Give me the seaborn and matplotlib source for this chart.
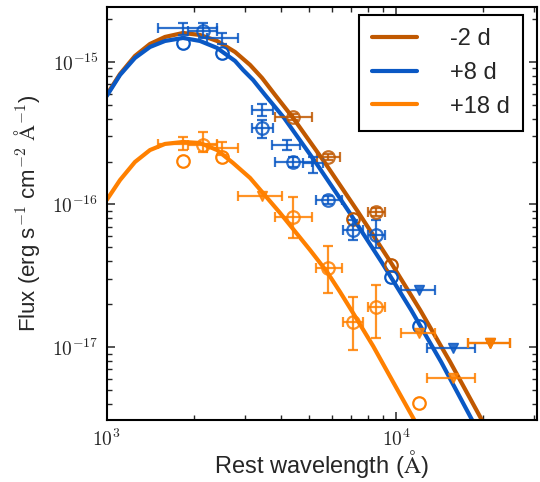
import matplotlib
matplotlib.use("Agg")
import matplotlib.pyplot as plt
from matplotlib.ticker import FuncFormatter, NullFormatter
import seaborn as sns
import numpy as np

# model curves (wavelength in Angstrom, flux in erg/s/cm2/A)
wave_m2 = [1000, 1112, 1252, 1411, 1590, 1835, 2101, 2406, 2777, 3129, 3442, 3818,
           4405, 5683, 7390, 9610, 12106, 15373, 19520, 21990]
flux_m2 = [5.87e-16, 8.24e-16, 1.102e-15, 1.338e-15, 1.498e-15, 1.598e-15, 1.547e-15,
           1.404e-15, 1.175e-15, 9.53e-16, 7.72e-16, 5.87e-16, 4.05e-16, 1.955e-16,
           8.86e-17, 3.89e-17, 1.818e-17, 7.85e-18, 3.23e-18, 1.99e-18]

wave_p8 = [1000, 1112, 1252, 1411, 1590, 1835, 2101, 2406, 2777, 2959, 3205, 3525,
           4101, 5290, 6880, 8947, 11268, 14308, 18310, 20470]
flux_p8 = [5.77e-16, 8.11e-16, 1.067e-15, 1.274e-15, 1.404e-15, 1.474e-15, 1.404e-15,
           1.254e-15, 1.016e-15, 8.79e-16, 7.47e-16, 5.87e-16, 4.05e-16, 1.955e-16,
           8.86e-17, 3.89e-17, 1.818e-17, 7.85e-18, 3.07e-18, 1.99e-18]

wave_p18 = [1000, 1112, 1252, 1411, 1590, 1835, 2101, 2406, 2733, 3129, 3442, 3972,
            4405, 5043, 5774, 6405, 7100, 8326, 9763, 11450, 12597]
flux_p18 = [1.075e-16, 1.485e-16, 1.987e-16, 2.41e-16, 2.66e-16, 2.746e-16, 2.70e-16,
            2.41e-16, 1.955e-16, 1.535e-16, 1.224e-16, 8.72e-17, 6.73e-17, 4.79e-17,
            3.36e-17, 2.43e-17, 1.732e-17, 1.016e-17, 5.68e-18, 3.18e-18, 2.225e-18]

# photometry: -2 d
m2_w = [4405, 5821, 8530]
m2_wlo = [3818, 5333, 8003]
m2_whi = [5125, 6405, 9163]
m2_f = [4.11e-16, 2.15e-16, 8.86e-17]
m2_flo = [3.92e-16, 2.05e-16, 8.30e-17]
m2_fhi = [4.31e-16, 2.26e-16, 9.45e-17]
m2_circ_w = [7100, 9610]
m2_circ_f = [7.91e-17, 3.76e-17]
m2_lim_w = [21140]
m2_lim_wlo = [17740]
m2_lim_whi = [24790]
m2_lim_f = [1.07e-17]

# photometry: +8 d
p8_bar_w = [1835, 2503, 3442, 4201, 5165]
p8_bar_wlo = [1504, 2222, 3180, 3728, 4771]
p8_bar_whi = [2406, 2843, 3757, 4658, 5594]
p8_bar_f = [1.732e-15, 1.474e-15, 4.60e-16, 2.62e-16, 1.955e-16]
p8_bar_flo = [1.547e-15, 1.338e-15, 4.18e-16, 2.41e-16, 1.66e-16]
p8_bar_fhi = [1.878e-15, 1.598e-15, 5.07e-16, 2.84e-16, 2.15e-16]
p8_w = [2152, 3442, 4405, 5821, 7100, 8530]
p8_wlo = [1910, 3180, 3818, 5290, 6560, 8003]
p8_whi = [2406, 3757, 5125, 6508, 7690, 9163]
p8_f = [1.65e-15, 3.44e-16, 1.99e-16, 1.075e-16, 6.62e-17, 6.11e-17]
p8_flo = [1.474e-15, 2.93e-16, 1.83e-16, 1.008e-16, 5.63e-17, 4.95e-17]
p8_fhi = [1.878e-15, 3.92e-16, 2.15e-16, 1.147e-16, 7.78e-17, 7.78e-17]
p8_circ_w = [1835, 2503, 9610, 12010]
p8_circ_f = [1.359e-15, 1.157e-15, 3.10e-17, 1.40e-17]
p8_lim_w = [12010, 15740]
p8_lim_wlo = [10406, 12800]
p8_lim_whi = [13640, 18760]
p8_lim_f = [2.51e-17, 9.84e-18]

# photometry: +18 d
p18_bar_w = [1835, 2503]
p18_bar_wlo = [1504, 2222]
p18_bar_whi = [2406, 2843]
p18_bar_f = [2.66e-16, 2.49e-16]
p18_bar_flo = [2.41e-16, 2.23e-16]
p18_bar_fhi = [2.98e-16, 2.75e-16]
p18_w = [2152, 4405, 5821, 7100, 8530]
p18_wlo = [1910, 3818, 5290, 6560, 8003]
p18_whi = [2406, 5125, 6508, 7690, 9163]
p18_f = [2.62e-16, 8.17e-17, 3.58e-17, 1.50e-17, 1.91e-17]
p18_flo = [2.34e-16, 5.82e-17, 2.39e-17, 9.53e-18, 1.16e-17]
p18_fhi = [3.23e-16, 1.133e-16, 5.11e-17, 2.24e-17, 2.72e-17]
p18_circ_w = [1835, 2503, 12010]
p18_circ_f = [2.02e-16, 2.15e-16, 4.05e-18]
p18_lim_w = [3442, 12010, 15740, 21140]
p18_lim_wlo = [2843, 10406, 12800, 17740]
p18_lim_whi = [4036, 13640, 18760, 24790]
p18_lim_f = [1.147e-16, 1.25e-17, 6.06e-18, 1.07e-17]

x_ticks = [1e3, 1e4]
y_ticks = [1e-17, 1e-16, 1e-15]

c_m2 = "#c05800"
c_p8 = "#0a58c4"
c_p18 = "#ff8000"


def errs(c, lo, hi):
    c = np.array(c)
    return [c - np.array(lo), np.array(hi) - c]


def draw_points(ax, color, bar, pts, circ, lim):
    kw = dict(ls="none", color=color, elinewidth=1.6, capsize=3.5, capthick=1.6, alpha=0.85)
    if bar is not None:
        w, wlo, whi, f, flo, fhi = bar
        ax.errorbar(w, f, xerr=errs(w, wlo, whi), yerr=errs(f, flo, fhi), fmt="none", **kw)
    if pts is not None:
        w, wlo, whi, f, flo, fhi = pts
        ax.errorbar(w, f, xerr=errs(w, wlo, whi), yerr=errs(f, flo, fhi), fmt="o",
                    mfc="none", mec=color, ms=9, mew=1.6, **kw)
    if circ is not None:
        w, f = circ
        ax.plot(w, f, "o", mfc="none", mec=color, ms=9, mew=1.6, ls="none")
    if lim is not None:
        w, wlo, whi, f = lim
        ax.errorbar(w, f, xerr=errs(w, wlo, whi), fmt="v", ms=7, mfc=color, mec=color, **kw)


def plot_sed():
    sns.set_style("ticks")
    plt.rcParams["font.family"] = ["Liberation Sans", "DejaVu Sans"]
    plt.rcParams["mathtext.fontset"] = "cm"

    fig = plt.figure(figsize=(5.4, 4.82), dpi=100)
    ax = fig.add_axes([0.1976, 0.1276, 0.7963, 0.8589])
    ax.set_xscale("log")
    ax.set_yscale("log")

    sns.lineplot(x=wave_m2, y=flux_m2, color=c_m2, lw=3, label="-2 d", ax=ax)
    sns.lineplot(x=wave_p8, y=flux_p8, color=c_p8, lw=3, label="+8 d", ax=ax)
    sns.lineplot(x=wave_p18, y=flux_p18, color=c_p18, lw=3, label="+18 d", ax=ax)

    draw_points(ax, c_m2, None,
                (m2_w, m2_wlo, m2_whi, m2_f, m2_flo, m2_fhi),
                (m2_circ_w, m2_circ_f),
                (m2_lim_w, m2_lim_wlo, m2_lim_whi, m2_lim_f))
    draw_points(ax, c_p8,
                (p8_bar_w, p8_bar_wlo, p8_bar_whi, p8_bar_f, p8_bar_flo, p8_bar_fhi),
                (p8_w, p8_wlo, p8_whi, p8_f, p8_flo, p8_fhi),
                (p8_circ_w, p8_circ_f),
                (p8_lim_w, p8_lim_wlo, p8_lim_whi, p8_lim_f))
    draw_points(ax, c_p18,
                (p18_bar_w, p18_bar_wlo, p18_bar_whi, p18_bar_f, p18_bar_flo, p18_bar_fhi),
                (p18_w, p18_wlo, p18_whi, p18_f, p18_flo, p18_fhi),
                (p18_circ_w, p18_circ_f),
                (p18_lim_w, p18_lim_wlo, p18_lim_whi, p18_lim_f))

    ax.set_xlim(1000, 3.06e4)
    ax.set_ylim(3.05e-18, 2.45e-15)
    ax.set_xticks(x_ticks)
    ax.set_yticks(y_ticks)

    # decade labels in computer modern like the original
    pow_fmt = FuncFormatter(lambda v, pos: r"$10^{%d}$" % int(round(np.log10(v))))
    ax.xaxis.set_major_formatter(pow_fmt)
    ax.yaxis.set_major_formatter(pow_fmt)
    ax.xaxis.set_minor_formatter(NullFormatter())
    ax.yaxis.set_minor_formatter(NullFormatter())

    ax.tick_params(which="both", direction="in", top=True, right=True, labelsize=14, pad=6)
    ax.tick_params(which="major", length=6, width=1.1)
    ax.tick_params(which="minor", length=3.5, width=1.0)
    for s in ax.spines.values():
        s.set_linewidth(1.5)
        s.set_color("black")

    ax.set_xlabel(r"Rest wavelength ($\mathrm{\AA}$)", fontsize=17)
    ax.xaxis.label.set_va("baseline")
    ax.xaxis.set_label_coords(0.5, -0.128)
    ax.set_ylabel(r"Flux (erg s$^{-1}$ cm$^{-2}$ $\mathrm{\AA}^{-1}$)", fontsize=16)
    ax.yaxis.set_label_coords(-0.15, 0.5)

    leg = ax.legend(loc="upper right", bbox_to_anchor=(0.968, 0.9795), borderaxespad=0,
                    fontsize=17, fancybox=False, framealpha=1, edgecolor="black",
                    handlelength=1.9, labelspacing=0.5, borderpad=0.55, handletextpad=1.4)
    leg.get_frame().set_linewidth(1.5)

    fig.savefig("out.png", dpi=100)


if __name__ == "__main__":
    plot_sed()
